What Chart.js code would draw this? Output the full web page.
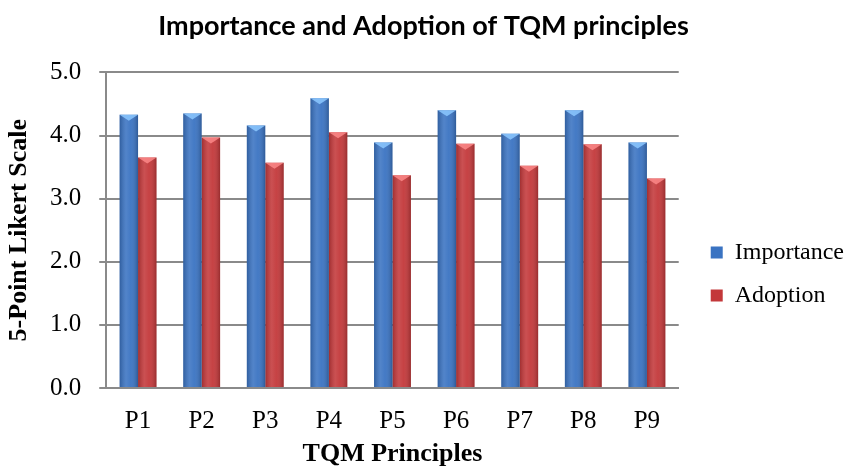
<!DOCTYPE html>
<html>
<head>
<meta charset="utf-8">
<script src="https://cdn.jsdelivr.net/npm/chart.js@4/dist/chart.umd.min.js"></script>
<style>
html,body{margin:0;padding:0;background:#fff;}
#wrap{width:847px;height:471px;position:relative;}
</style>
</head>
<body>
<div id="wrap"><canvas id="c" width="847" height="471"></canvas></div>
<script>
const categories = ["P1","P2","P3","P4","P5","P6","P7","P8","P9"];
const importance = [4.33, 4.35, 4.16, 4.59, 3.89, 4.40, 4.03, 4.40, 3.89];
const adoption = [3.65, 3.97, 3.57, 4.05, 3.37, 3.87, 3.52, 3.86, 3.32];
const yTicks = [0, 1, 2, 3, 4, 5];

const serif = "'Liberation Serif', 'Times New Roman', serif";

const shade = {
  id: 'shade',
  afterLayout(chart) {
    const lg = chart.legend;
    if (lg) { lg.left += 13; lg.right += 13; }
  },
  afterDatasetsDraw(chart) {
    const ctx = chart.ctx;
    chart.data.datasets.forEach((ds, di) => {
      const meta = chart.getDatasetMeta(di);
      meta.data.forEach(bar => {
        const w = bar.width, l = bar.x - w / 2, t = bar.y, b = bar.base;
        const g = ctx.createLinearGradient(l, 0, l + w, 0);
        g.addColorStop(0, 'rgba(0,0,0,0.18)');
        g.addColorStop(0.35, 'rgba(255,255,255,0.12)');
        g.addColorStop(0.6, 'rgba(255,255,255,0.05)');
        g.addColorStop(1, 'rgba(0,0,0,0.22)');
        ctx.save();
        ctx.fillStyle = g;
        ctx.fillRect(l, t, w, b - t);
        ctx.beginPath();
        ctx.moveTo(l, t);
        ctx.lineTo(l + w, t);
        ctx.lineTo(bar.x, t + 6);
        ctx.closePath();
        ctx.fillStyle = di === 0 ? 'rgba(140,200,255,0.85)' : 'rgba(255,140,140,0.8)';
        ctx.fill();
        ctx.restore();
      });
    });
  }
};

new Chart(document.getElementById('c'), {
  type: 'bar',
  data: {
    labels: categories,
    datasets: [
      { label: 'Importance', data: importance, backgroundColor: '#3a73c2', borderWidth: 0 },
      { label: 'Adoption', data: adoption, backgroundColor: '#c3383a', borderWidth: 0 }
    ]
  },
  options: {
    responsive: false,
    animation: false,
    devicePixelRatio: 1,
    layout: { padding: { left: 6, right: 6, top: 4, bottom: 4 } },
    datasets: { bar: { categoryPercentage: 0.58, barPercentage: 1.0 } },
    plugins: {
      title: {
        display: true,
        text: 'Importance and Adoption of TQM principles',
        font: { family: "Lato, sans-serif", size: 27, weight: 'bold' },
        color: '#000',
        padding: { top: 6, bottom: 30 }
      },
      legend: {
        position: 'right',
        title: { display: true, text: ' ', font: { size: 10 }, padding: { top: 33, bottom: 32 } },
        labels: {
          font: { family: serif, size: 24 },
          color: '#000',
          boxWidth: 12,
          boxHeight: 12,
          padding: 19
        }
      },
      tooltip: { enabled: false }
    },
    scales: {
      x: {
        grid: { display: false },
        border: { display: true, color: '#8a8a8a', width: 2 },
        ticks: { font: { family: serif, size: 25 }, color: '#000', padding: 10 },
        title: { display: true, text: 'TQM Principles', font: { family: serif, size: 26, weight: 'bold', lineHeight: 1.0 }, color: '#000', padding: { top: -5, bottom: 0 } }
      },
      y: {
        min: 0, max: 5,
        afterBuildTicks(scale) { scale.ticks = yTicks.map(v => ({ value: v })); },
        grid: { color: '#8a8a8a', lineWidth: 2, tickLength: 7 },
        border: { display: true, color: '#8a8a8a', width: 2 },
        ticks: { font: { family: serif, size: 25 }, color: '#000', padding: 18, callback: v => Number(v).toFixed(1) },
        title: { display: true, text: '5-Point Likert Scale', font: { family: serif, size: 26, weight: 'bold', lineHeight: 1.0 }, color: '#000', padding: { top: 0, bottom: 0 } }
      }
    }
  },
  plugins: [shade]
});
</script>
</body>
</html>
